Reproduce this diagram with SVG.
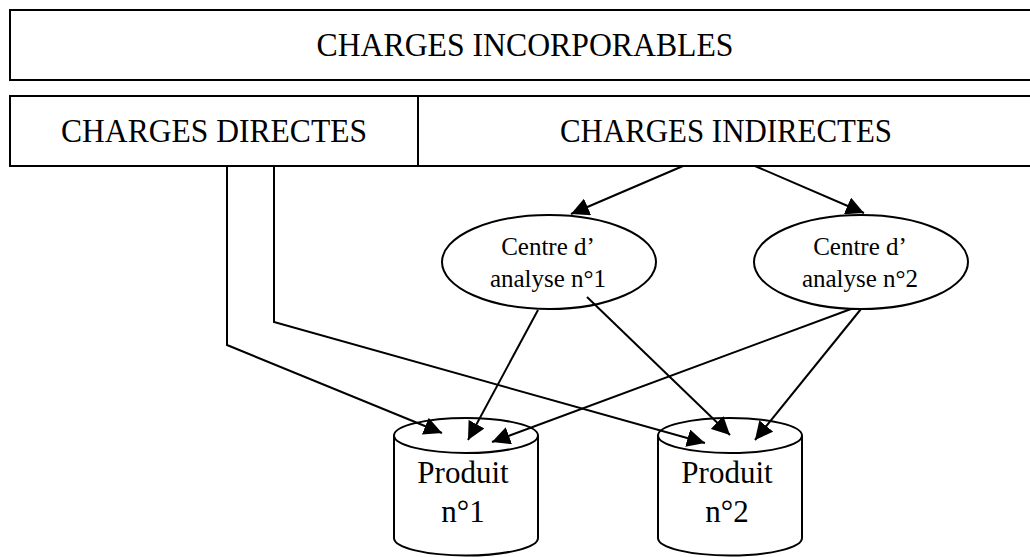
<svg xmlns="http://www.w3.org/2000/svg" width="1030" height="557" viewBox="0 0 1030 557">
<style>
.box{fill:#fff;stroke:#000;stroke-width:2}
.shape{fill:#fff;stroke:#000;stroke-width:2}
.t{font-family:"Liberation Serif","Times New Roman",serif;fill:#000;text-anchor:middle}
.big{font-size:33px}
.mid{font-size:25px}
.prod{font-size:31px}
.c{fill:none;stroke:#000;stroke-width:2;marker-end:url(#ah)}
</style>
<defs>
<marker id="ah" markerUnits="userSpaceOnUse" markerWidth="20" markerHeight="18" refX="18" refY="9" orient="auto">
<path d="M0,0 L18,9 L0,18 Z" fill="#000"/>
</marker>
</defs>
<rect width="1030" height="557" fill="#fff"/>
<g id="charges-incorporables">
<rect class="box" x="10" y="10" width="1030" height="70"/>
<text class="t big" x="525" y="56" textLength="417" lengthAdjust="spacingAndGlyphs">CHARGES INCORPORABLES</text>
</g>
<g id="charges-directes">
<rect class="box" x="10" y="96" width="408" height="70"/>
<text class="t big" x="214" y="142" textLength="306" lengthAdjust="spacingAndGlyphs">CHARGES DIRECTES</text>
</g>
<g id="charges-indirectes">
<rect class="box" x="418" y="96" width="622" height="70"/>
<text class="t big" x="726" y="142" textLength="332" lengthAdjust="spacingAndGlyphs">CHARGES INDIRECTES</text>
</g>
<g id="centre-1">
<ellipse class="shape" cx="549" cy="262" rx="107" ry="47"/>
<text class="t mid" x="548" y="255">Centre d’</text>
<text class="t mid" x="548" y="287">analyse n°1</text>
</g>
<g id="centre-2">
<ellipse class="shape" cx="861" cy="262" rx="107" ry="47"/>
<text class="t mid" x="860" y="255">Centre d’</text>
<text class="t mid" x="860" y="287">analyse n°2</text>
</g>
<g id="produit-1">
<path class="shape" d="M394,435.5 L394,538 A72,17.5 0 0 0 538,538 L538,435.5"/>
<ellipse class="shape" cx="466" cy="435.5" rx="72" ry="17.5"/>
<text class="t prod" x="463" y="483">Produit</text>
<text class="t prod" x="463" y="522">n°1</text>
</g>
<g id="produit-2">
<path class="shape" d="M658,435.5 L658,538 A72,17.5 0 0 0 802,538 L802,435.5"/>
<ellipse class="shape" cx="730" cy="435.5" rx="72" ry="17.5"/>
<text class="t prod" x="727" y="483">Produit</text>
<text class="t prod" x="727" y="522">n°2</text>
</g>
<g id="connectors">
<polyline class="c" points="227,166 227,345 442,433"/>
<polyline class="c" points="274,166 274,322 705,443"/>
<line class="c" x1="683" y1="166" x2="571" y2="214"/>
<line class="c" x1="755" y1="166" x2="864" y2="213"/>
<line class="c" x1="538" y1="310" x2="468" y2="440"/>
<line class="c" x1="587" y1="297" x2="730" y2="435"/>
<line class="c" x1="851" y1="309" x2="492" y2="442"/>
<line class="c" x1="861" y1="309" x2="755" y2="440"/>
</g>
</svg>
